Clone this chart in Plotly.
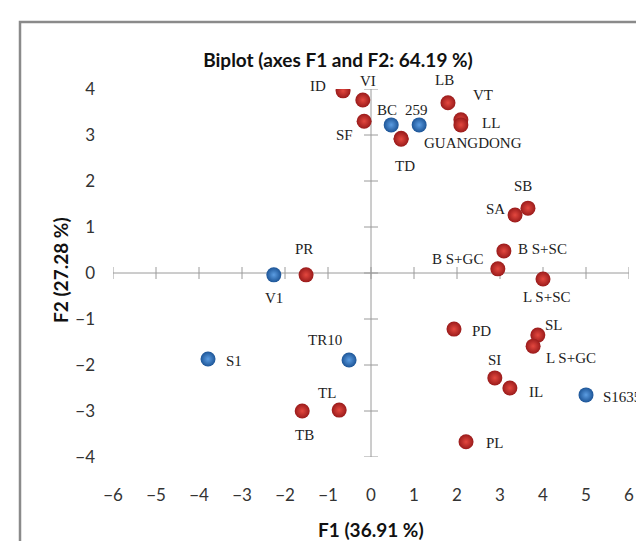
import plotly.graph_objects as go

# ---------------- data ----------------
LABELS = ["ID", "VI", "SF", "BC", "259", "GUANGDONG", "TD", "LB", "VT", "LL",
          "SB", "SA", "B S+SC", "B S+GC", "L S+SC", "V1", "PR", "S1", "TR10",
          "TL", "TB", "PD", "SL", "L S+GC", "SI", "IL", "S1635", "PL"]
F1 = [-0.65, -0.19, -0.16, 0.47, 1.12, 0.70, 0.70, 1.79, 2.09, 2.09,
      3.65, 3.35, 3.09, 2.95, 4.00, -2.26, -1.51, -3.79, -0.51,
      -0.74, -1.60, 1.93, 3.88, 3.77, 2.88, 3.23, 5.00, 2.21]
F2 = [3.96, 3.76, 3.30, 3.22, 3.22, 2.93, 2.91, 3.70, 3.33, 3.22,
      1.41, 1.26, 0.48, 0.09, -0.13, -0.04, -0.04, -1.87, -1.89,
      -2.98, -3.00, -1.22, -1.35, -1.59, -2.28, -2.50, -2.65, -3.67]
GROUP = ["r", "r", "r", "b", "b", "r", "r", "r", "r", "r",
         "r", "r", "r", "r", "r", "b", "r", "b", "b",
         "r", "r", "r", "r", "r", "r", "r", "b", "r"]
X_TICKS = list(range(-6, 7))
Y_TICKS = list(range(-4, 5))
TITLE = "Biplot (axes F1 and F2: 64.19 %)"
X_TITLE = "F1 (36.91 %)"
Y_TITLE = "F2 (27.28 %)"

# label offsets in pixels (dx, dy with y downward)
LABEL_OFFSETS = [(-25, -5), (5, -19), (-20, 14), (-4, -15), (-3, -15), (72, 5), (4, 27),
                 (-3, -23), (22, -25), (30, -2), (-5, -22), (-20, -6), (39, -2),
                 (-40, -10), (4, 18), (0, 23), (-2, -26), (26, 2), (-24, -20),
                 (-12, -17), (2, 24), (28, 2), (16, -10), (38, 12), (0, -18),
                 (26, 4), (36, 2), (29, 1)]

RED_EDGE, RED_CENTER = "#9a1b1b", "#e4483f"
BLUE_EDGE, BLUE_CENTER = "#1d5597", "#5c9de2"

W, H = 644, 541
ML, MR, MT, MB = 105, 23, 81, 92
PW, PH = W - ML - MR, H - MT - MB


def px_to_paper(px, py):
    return (px - ML) / PW, (H - MB - py) / PH


fig = go.Figure()

# axis cross lines and tick marks
AX_COLOR = "#9a9a9a"
fig.add_shape(type="line", xref="x", yref="y", x0=X_TICKS[0], x1=X_TICKS[-1], y0=0, y1=0,
              line=dict(color=AX_COLOR, width=1), layer="below")
fig.add_shape(type="line", xref="x", yref="y", x0=0, x1=0, y0=Y_TICKS[0], y1=Y_TICKS[-1],
              line=dict(color=AX_COLOR, width=1), layer="below")
for t in X_TICKS:
    fig.add_shape(type="line", xref="x", yref="y", ysizemode="pixel", yanchor=0,
                  x0=t, x1=t, y0=-6, y1=6, line=dict(color=AX_COLOR, width=1), layer="below")
for t in Y_TICKS:
    fig.add_shape(type="line", xref="x", yref="y", xsizemode="pixel", xanchor=0,
                  y0=t, y1=t, x0=-7, x1=7, line=dict(color=AX_COLOR, width=1), layer="below")

for grp, edge, center in [("r", RED_EDGE, RED_CENTER), ("b", BLUE_EDGE, BLUE_CENTER)]:
    xs = [x for x, g in zip(F1, GROUP) if g == grp]
    ys = [y for y, g in zip(F2, GROUP) if g == grp]
    fig.add_trace(go.Scatter(
        x=xs, y=ys, mode="markers", showlegend=False, hoverinfo="skip",
        marker=dict(size=15, color=edge, line=dict(width=0),
                    gradient=dict(type="radial", color=center))))

annos = []
for lab, x, y, (dx, dy) in zip(LABELS, F1, F2, LABEL_OFFSETS):
    annos.append(dict(x=x, y=y, xref="x", yref="y", text=lab, showarrow=False,
                      xshift=dx, yshift=-dy, xanchor="center", yanchor="middle",
                      borderpad=0,
                      font=dict(family="Liberation Serif", size=15, color="#222222")))

xt_x, xt_y = px_to_paper(363, 521)
annos.append(dict(x=xt_x, y=xt_y, xref="paper", yref="paper",
                  text="<b>" + X_TITLE + "</b>", showarrow=False,
                  xanchor="center", yanchor="middle",
                  font=dict(family="Lato", size=19, color="#111")))
yt_x, yt_y = px_to_paper(52, 262)
annos.append(dict(x=yt_x, y=yt_y, xref="paper", yref="paper",
                  text="<b>" + Y_TITLE + "</b>", showarrow=False, textangle=-90,
                  xanchor="center", yanchor="middle",
                  font=dict(family="Lato", size=19, color="#111")))

fx0, fy0 = px_to_paper(12, 560)
fx1, fy1 = px_to_paper(641, 14)
fig.add_shape(type="rect", xref="paper", yref="paper",
              x0=fx0, x1=fx1, y0=fy0, y1=fy1,
              line=dict(color="#8a8a8a", width=2.5), fillcolor="rgba(0,0,0,0)")

fig.update_layout(
    width=W, height=H,
    margin=dict(l=ML, r=MR, t=MT, b=MB),
    paper_bgcolor="white", plot_bgcolor="white",
    annotations=annos,
    title=dict(text="<b>" + TITLE + "</b>", x=330 / W, xanchor="center",
               y=1 - 52 / H, yanchor="middle",
               font=dict(family="Lato", size=19, color="#111")),
    xaxis=dict(range=[X_TICKS[0], X_TICKS[-1]], tickvals=X_TICKS, showgrid=False,
               zeroline=False, showline=False, ticks="", ticklabelstandoff=26,
               tickfont=dict(family="Lato", size=17, color="#333")),
    yaxis=dict(range=[Y_TICKS[0], Y_TICKS[-1]], tickvals=Y_TICKS, showgrid=False,
               zeroline=False, showline=False, ticks="", ticklabelstandoff=17,
               tickfont=dict(family="Lato", size=17, color="#333")),
)

fig.write_html("out.html")
